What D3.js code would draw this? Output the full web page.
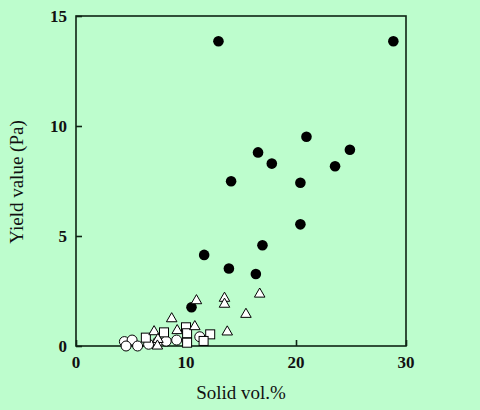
<!DOCTYPE html>
<html lang="en">
<head>
<meta charset="UTF-8">
<title>Yield value vs solid vol.%</title>
<script src="https://d3js.org/d3.v7.min.js"></script>
<style>
  body { margin: 0; background: #bdfdcd; }
  svg { display: block; }
  .tick-label { font-family: "Liberation Serif", serif; font-weight: bold; font-size: 17px; fill: #111; }
  .axis-title { font-family: "Liberation Serif", serif; font-size: 19px; fill: #111; }
</style>
</head>
<body>
<script>
// data: [solid vol.%, yield value Pa]
const filledCircles = [
  [10.5, 1.76], [11.65, 4.14], [12.95, 13.85], [13.9, 3.52], [14.1, 7.49],
  [16.35, 3.27], [16.55, 8.8], [16.95, 4.58], [17.8, 8.29], [20.4, 5.53],
  [20.4, 7.42], [20.95, 9.51], [23.55, 8.17], [24.9, 8.92], [28.85, 13.85]
];
const openCircles = [
  [4.4, 0.2], [5.1, 0.27], [4.55, 0.0], [5.6, 0.0], [6.6, 0.08],
  [7.45, 0.2], [8.2, 0.22], [9.15, 0.27], [11.25, 0.42]
];
const openSquares = [
  [6.35, 0.38], [8.0, 0.62], [10.0, 0.85], [10.1, 0.58], [10.1, 0.15],
  [12.2, 0.53], [11.6, 0.23]
];
const openTriangles = [
  [7.1, 0.65], [7.45, 0.3], [7.4, 0.0], [8.7, 1.24], [9.2, 0.7],
  [10.8, 0.88], [10.95, 2.06], [13.5, 2.17], [13.5, 1.9], [13.75, 0.64],
  [15.45, 1.44], [16.7, 2.36]
];
const xTicks = [0, 10, 20, 30];
const yTicks = [0, 5, 10, 15];

const width = 480, height = 410;
const m = { left: 76, right: 406, top: 16, bottom: 346 };

const x = d3.scaleLinear().domain([0, 30]).range([m.left, m.right]);
const y = d3.scaleLinear().domain([0, 15]).range([m.bottom, m.top]);

const svg = d3.select('body').append('svg')
  .attr('width', width)
  .attr('height', height);

// frame
svg.append('rect')
  .attr('x', m.left).attr('y', m.top)
  .attr('width', m.right - m.left).attr('height', m.bottom - m.top)
  .attr('fill', 'none')
  .attr('stroke', '#0e2414')
  .attr('stroke-width', 1.6);

// inward ticks, labels drawn separately
const xAxis = svg.append('g')
  .attr('transform', `translate(0,${m.bottom})`)
  .call(d3.axisBottom(x).tickValues(xTicks).tickSizeInner(-6).tickSizeOuter(0).tickFormat(''));
const yAxis = svg.append('g')
  .attr('transform', `translate(${m.left},0)`)
  .call(d3.axisLeft(y).tickValues(yTicks).tickSizeInner(-6).tickSizeOuter(0).tickFormat(''));
[xAxis, yAxis].forEach(g => {
  g.select('.domain').remove();
  g.selectAll('line').attr('stroke', '#0e2414').attr('stroke-width', 1.6);
});

svg.selectAll('.xlab')
  .data(xTicks)
  .enter().append('text')
  .attr('class', 'tick-label')
  .attr('x', d => x(d))
  .attr('y', 368)
  .attr('text-anchor', 'middle')
  .text(d => d);

svg.selectAll('.ylab')
  .data(yTicks)
  .enter().append('text')
  .attr('class', 'tick-label')
  .attr('x', 67)
  .attr('y', d => y(d) + 6)
  .attr('text-anchor', 'end')
  .text(d => d);

svg.append('text')
  .attr('class', 'axis-title')
  .attr('x', 241)
  .attr('y', 399)
  .attr('text-anchor', 'middle')
  .text('Solid vol.%');

svg.append('text')
  .attr('class', 'axis-title')
  .attr('transform', 'translate(23,182) rotate(-90)')
  .attr('text-anchor', 'middle')
  .text('Yield value (Pa)');

// markers
svg.append('g').selectAll('circle')
  .data(filledCircles)
  .enter().append('circle')
  .attr('cx', d => x(d[0]))
  .attr('cy', d => y(d[1]))
  .attr('r', 5.3)
  .attr('fill', '#000');

svg.append('g').selectAll('circle')
  .data(openCircles)
  .enter().append('circle')
  .attr('cx', d => x(d[0]))
  .attr('cy', d => y(d[1]))
  .attr('r', 5)
  .attr('fill', '#fff')
  .attr('stroke', '#000')
  .attr('stroke-width', 1);

svg.append('g').selectAll('rect')
  .data(openSquares)
  .enter().append('rect')
  .attr('x', d => x(d[0]) - 4.5)
  .attr('y', d => y(d[1]) - 4.5)
  .attr('width', 9)
  .attr('height', 9)
  .attr('fill', '#fff')
  .attr('stroke', '#000')
  .attr('stroke-width', 1);

const tri = d3.symbol().type(d3.symbolTriangle).size(48);
svg.append('g').selectAll('path')
  .data(openTriangles)
  .enter().append('path')
  .attr('transform', d => `translate(${x(d[0])},${y(d[1])})`)
  .attr('d', tri)
  .attr('fill', '#fff')
  .attr('stroke', '#000')
  .attr('stroke-width', 1);
</script>
</body>
</html>
